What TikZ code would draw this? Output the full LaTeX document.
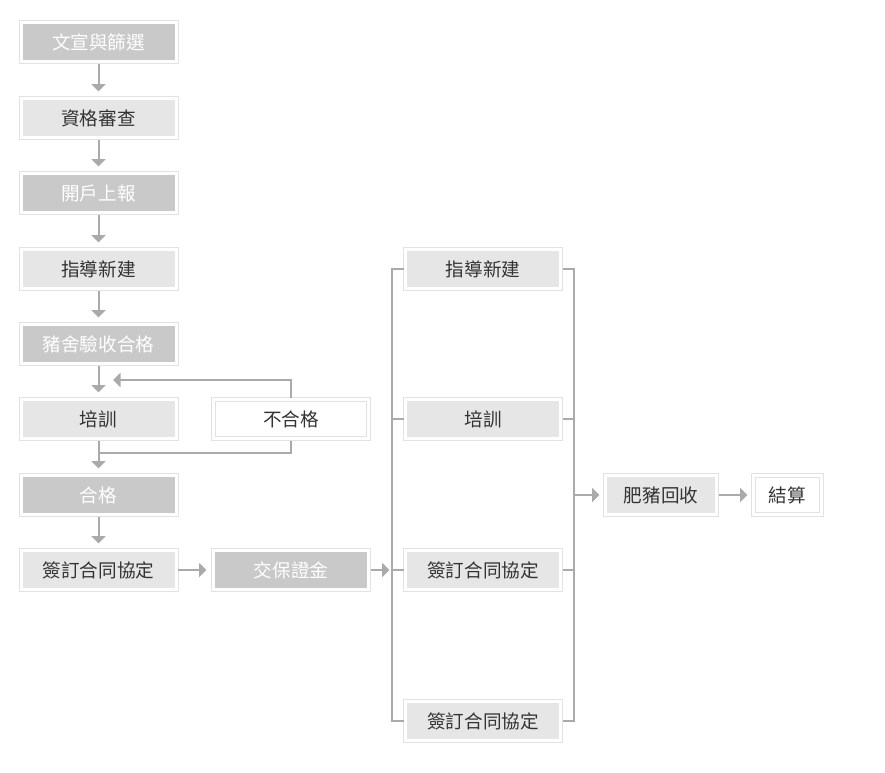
\documentclass[tikz,border=0pt]{standalone}
\usepackage{fontspec}
\setmainfont{Noto Sans CJK TC}
\usetikzlibrary{arrows.meta}
\definecolor{bordc}{HTML}{E2E2E2}
\definecolor{darkf}{HTML}{C9C9C9}
\definecolor{lightf}{HTML}{E6E6E6}
\definecolor{linec}{HTML}{AAAAAA}
\definecolor{txt}{HTML}{333333}
\tikzset{
  base/.style={draw=bordc, line width=1pt, fill=white, inner sep=0pt, outer sep=0pt,
    minimum width=159pt, minimum height=43pt, font=\fontsize{18.6}{20}\selectfont},
  fillin/.style={path picture={\fill[#1] ([shift={(3.5pt,-3.5pt)}]path picture bounding box.north west) rectangle ([shift={(-3.5pt,3.5pt)}]path picture bounding box.south east);}},
  darkbox/.style={base, fillin=darkf, text=white},
  lightbox/.style={base, fillin=lightf, text=txt},
  whitebox/.style={base, text=txt, path picture={\draw[bordc, line width=1pt] ([shift={(4pt,-4pt)}]path picture bounding box.north west) rectangle ([shift={(-4pt,4pt)}]path picture bounding box.south east);}},
  conn/.style={draw=linec, line width=2pt},
  arr/.style={conn, -{Triangle[length=7.5pt,width=14pt]}},
}
\begin{document}
\begin{tikzpicture}[x=1pt,y=-1pt]
\useasboundingbox (0,0) rectangle (885,772);
\node[darkbox]  (n1) at (98.5,42)  {文宣與篩選};
\node[lightbox] (n2) at (98.5,118) {資格審查};
\node[darkbox]  (n3) at (98.5,193) {開戶上報};
\node[lightbox] (n4) at (98.5,269) {指導新建};
\node[darkbox]  (n5) at (98.5,344) {豬舍驗收合格};
\node[lightbox] (n6) at (98.5,419) {培訓};
\node[darkbox]  (n7) at (98.5,495) {合格};
\node[lightbox] (n8) at (98.5,570) {簽訂合同協定};
\node[whitebox] (no) at (291,419)  {不合格};
\node[darkbox]  (jb) at (291,570)  {交保證金};
\node[lightbox] (r1) at (483,269)  {指導新建};
\node[lightbox] (r2) at (483,419)  {培訓};
\node[lightbox] (r3) at (483,570)  {簽訂合同協定};
\node[lightbox] (r4) at (483,721)  {簽訂合同協定};
\node[lightbox, minimum width=115pt] (fz) at (661,495) {肥豬回收};
\node[whitebox, minimum width=72pt] (js) at (787.5,495) {結算};
\coordinate (loopend) at (113,380);
\coordinate (merge) at (98.5,453);
\coordinate (bl) at (392,495);
\coordinate (br) at (574,495);
% left column
\foreach \a/\b in {n1/n2,n2/n3,n3/n4,n4/n5,n5/n6,n6/n7,n7/n8}
  \draw[arr] (\a.south) -- ([yshift=5pt]\b.north);
\draw[arr] (no.north) |- (loopend);
\draw[conn] (no.south) |- (merge);
\draw[arr] (n8.east) -- ([xshift=-5pt]jb.west);
\draw[arr] (jb.east) -- ([xshift=-2.5pt]r3.west -| bl);
% brackets
\draw[conn] (r1.west) -- (r1.west -| bl) -- (r4.west -| bl) -- (r4.west);
\draw[conn] (r2.west) -- (r2.west -| bl);
\draw[conn] (r3.west) -- (r3.west -| bl);
\draw[conn] (r1.east) -- (r1.east -| br) -- (r4.east -| br) -- (r4.east);
\draw[conn] (r2.east) -- (r2.east -| br);
\draw[conn] (r3.east) -- (r3.east -| br);
\draw[arr] (br) -- ([xshift=-4pt]fz.west);
\draw[arr] (fz.east) -- ([xshift=-4pt]js.west);
\end{tikzpicture}
\end{document}
